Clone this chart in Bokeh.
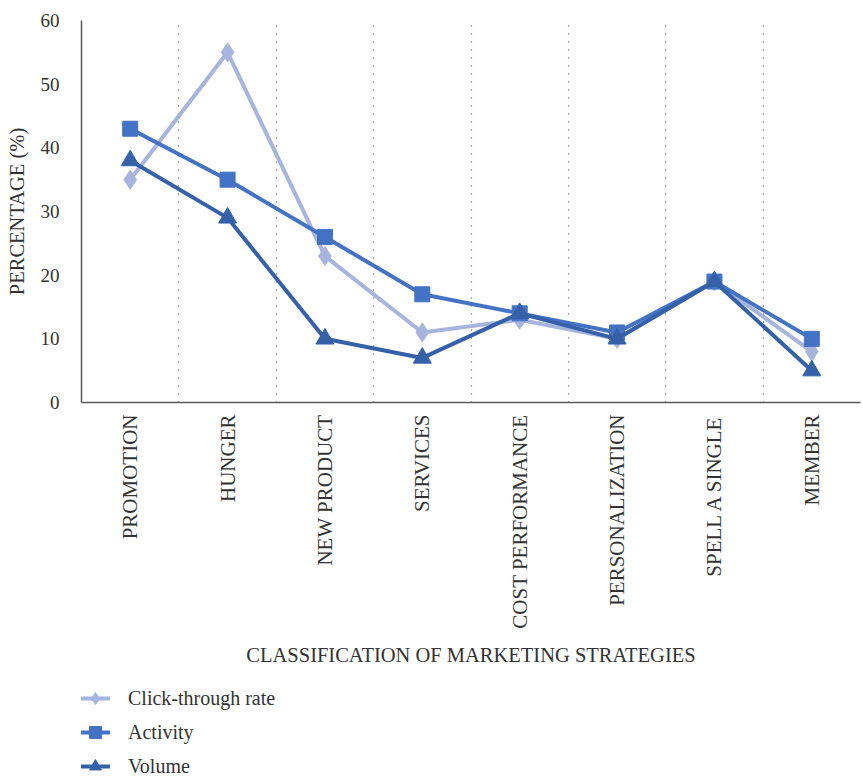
from bokeh.plotting import figure
from bokeh.models import FixedTicker, Grid, Legend, LegendItem, Range1d
from bokeh.layouts import column
from bokeh.embed import file_html
from bokeh.resources import INLINE
import math

categories = ["PROMOTION", "HUNGER", "NEW PRODUCT", "SERVICES", "COST PERFORMANCE",
              "PERSONALIZATION", "SPELL A SINGLE", "MEMBER"]
click_through = [35, 55, 23, 11, 13, 10, 19, 8]
activity = [43, 35, 26, 17, 14, 11, 19, 10]
volume = [38, 29, 10, 7, 14, 10, 19, 5]
y_ticks = [0, 10, 20, 30, 40, 50, 60]
series_names = ["Click-through rate", "Activity", "Volume"]

FONT = "Liberation Serif"
TXT = "#333333"
n = len(categories)
xs = [i + 0.5 for i in range(n)]

C_CLICK = "#A7B4DD"
C_ACT = "#4472C4"
C_VOL = "#3461A8"
colors = [C_CLICK, C_ACT, C_VOL]
markers = ["diamond", "square", "triangle"]
msizes = [19, 15, 18]
series = [click_through, activity, volume]

p = figure(width=863, height=681, output_backend="svg", toolbar_location=None,
           x_range=Range1d(0, n), y_range=Range1d(0, 60),
           min_border_left=81, min_border_top=20, min_border_right=3, min_border_bottom=279)
p.outline_line_color = None
p.background_fill_color = "white"
p.border_fill_color = "white"
p.xgrid.visible = False
p.ygrid.visible = False

# dotted separators between categories
p.add_layout(Grid(dimension=0, ticker=FixedTicker(ticks=list(range(1, n))),
                  grid_line_color="#555555", grid_line_dash="1 7", grid_line_width=1.2))

p.xaxis.ticker = FixedTicker(ticks=xs)
p.xaxis.major_label_overrides = {x: c for x, c in zip(xs, categories)}
p.xaxis.major_label_orientation = math.pi / 2
p.xaxis.major_tick_line_color = None
p.xaxis.minor_tick_line_color = None
p.xaxis.axis_line_color = "#595959"
p.xaxis.axis_line_width = 1.5
p.xaxis.major_label_text_font = FONT
p.xaxis.major_label_text_font_size = "21px"
p.xaxis.major_label_text_color = TXT
p.xaxis.major_label_standoff = 6
p.xaxis.axis_label = "CLASSIFICATION OF MARKETING STRATEGIES"
p.xaxis.axis_label_text_font = FONT
p.xaxis.axis_label_text_font_size = "20.5px"
p.xaxis.axis_label_text_font_style = "normal"
p.xaxis.axis_label_text_color = TXT
p.xaxis.axis_label_standoff = 12

p.yaxis.ticker = FixedTicker(ticks=y_ticks)
p.yaxis.major_tick_line_color = None
p.yaxis.minor_tick_line_color = None
p.yaxis.axis_line_color = "#595959"
p.yaxis.axis_line_width = 1.5
p.yaxis.major_label_text_font = FONT
p.yaxis.major_label_text_font_size = "19px"
p.yaxis.major_label_text_color = TXT
p.yaxis.major_label_standoff = 16
p.yaxis.axis_label = "PERCENTAGE (%)"
p.yaxis.axis_label_text_font = FONT
p.yaxis.axis_label_text_font_size = "20.5px"
p.yaxis.axis_label_text_font_style = "normal"
p.yaxis.axis_label_text_color = TXT
p.yaxis.axis_label_standoff = 10

for vals, col, mk, ms in zip(series, colors, markers, msizes):
    p.line(xs, vals, line_color=col, line_width=4)
    p.scatter(xs, vals, marker=mk, size=ms, fill_color=col, line_color=col)

# legend panel below the chart (its data lies outside the visible y range)
lg = figure(width=863, height=96, output_backend="svg", toolbar_location=None,
            x_range=Range1d(0, n), y_range=Range1d(-2, -1),
            min_border_left=0, min_border_top=0, min_border_right=0, min_border_bottom=0)
lg.axis.visible = False
lg.grid.visible = False
lg.outline_line_color = None
lg.border_fill_color = "white"
lg.background_fill_color = "white"

items = []
for name, vals, col, mk in zip(series_names, series, colors, markers):
    r1 = lg.line(xs, vals, line_color=col, line_width=4)
    r2 = lg.scatter(xs, vals, marker=mk, size=16, fill_color=col, line_color=col)
    items.append(LegendItem(label=name, renderers=[r1, r2]))

legend = Legend(items=items, location=(-1, -6), orientation="vertical")
legend.border_line_color = None
legend.background_fill_alpha = 0
legend.padding = 0
legend.margin = 0
legend.glyph_width = 30
legend.glyph_height = 34
legend.label_height = 34
legend.spacing = 0
legend.label_standoff = 18
legend.label_text_font = FONT
legend.label_text_font_size = "20px"
legend.label_text_color = TXT
lg.add_layout(legend, "center")

open("out.html", "w").write(file_html(column(p, lg, spacing=0), INLINE))
